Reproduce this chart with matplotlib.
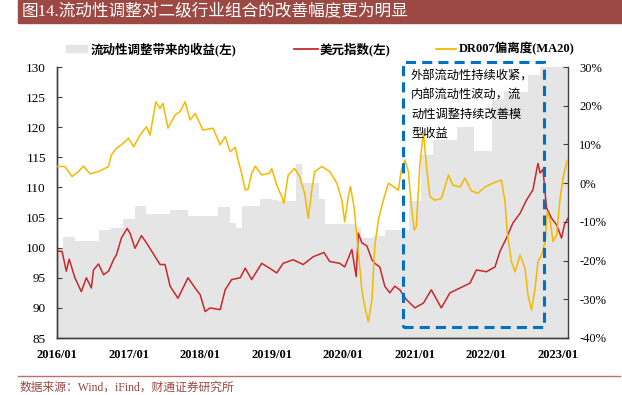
import matplotlib
matplotlib.use('Agg')
import matplotlib.pyplot as plt
from matplotlib.patches import Rectangle
from matplotlib.lines import Line2D
import numpy as np

CJK = 'Noto Sans CJK SC'
SERIF = 'Liberation Serif'
plt.rcParams['font.family'] = [SERIF, CJK]
plt.rcParams['axes.unicode_minus'] = False

# ---------------- data ----------------
# monthly cumulative gain from liquidity adjustment (left axis), Jan 2016 .. Feb 2023
gain_start = 2016.0
gain_values = [
    100.0, 101.8, 101.8, 101.1, 101.1, 101.1, 101.1, 103.0, 103.0, 103.3, 103.3, 104.7,
    104.7, 106.9, 106.9, 105.6, 105.6, 105.6, 105.6, 106.3, 106.3, 106.3, 105.2, 105.2,
    105.2, 105.2, 105.2, 106.8, 106.8, 104.1, 103.3, 106.9, 106.9, 106.9, 108.1, 108.0,
    107.9, 107.8, 107.8, 107.8, 113.9, 110.7, 110.7, 110.7, 108.1, 103.9, 103.9, 103.9,
    103.9, 103.9, 103.4, 101.6, 101.6, 101.9, 101.9, 102.9, 102.9, 102.9, 103.0, 107.8,
    107.8, 115.4, 115.4, 117.9, 117.9, 117.9, 117.9, 120.1, 120.1, 120.1, 116.0, 116.0,
    116.0, 124.5, 124.5, 125.9, 125.9, 125.9, 125.9, 128.7, 128.7, 132.0, 132.0, 132.0,
    132.0, 132.0,
]
x_end = 2023.14

# US dollar index (left axis)
usd_t = [2016.00, 2016.07, 2016.13, 2016.17, 2016.25, 2016.34, 2016.41, 2016.48, 2016.51,
         2016.58, 2016.65, 2016.72, 2016.79, 2016.83, 2016.90, 2016.98, 2017.02, 2017.09,
         2017.18, 2017.25, 2017.34, 2017.44, 2017.51, 2017.58, 2017.69, 2017.76, 2017.83,
         2017.93, 2018.00, 2018.07, 2018.14, 2018.28, 2018.35, 2018.44, 2018.56, 2018.63,
         2018.72, 2018.86, 2018.97, 2019.07, 2019.16, 2019.30, 2019.44, 2019.58, 2019.73,
         2019.81, 2019.95, 2020.02, 2020.12, 2020.18, 2020.21, 2020.26, 2020.33, 2020.40,
         2020.44, 2020.51, 2020.58, 2020.65, 2020.72, 2020.79, 2020.88, 2021.00, 2021.12,
         2021.23, 2021.37, 2021.49, 2021.63, 2021.77, 2021.86, 2022.00, 2022.12, 2022.19,
         2022.28, 2022.37, 2022.47, 2022.56, 2022.65, 2022.72, 2022.75, 2022.79, 2022.84,
         2022.91, 2022.98, 2023.05, 2023.09, 2023.14]
usd_v = [99.4, 99.4, 96.1, 98.1, 95.0, 92.7, 95.0, 93.3, 96.3,
         97.3, 95.5, 96.1, 98.0, 98.8, 101.6, 103.2, 102.4, 99.9,
         102.0, 100.8, 99.1, 97.2, 97.2, 93.6, 91.6, 93.3, 95.0,
         93.3, 92.2, 89.4, 90.0, 89.7, 93.0, 94.7, 95.0, 96.6,
         94.7, 97.4, 96.6, 95.8, 97.4, 98.0, 97.2, 98.5, 99.2,
         97.7, 97.4, 96.8, 99.7, 95.2, 102.4, 100.8, 100.3, 98.0,
         97.4, 96.8, 93.6, 92.5, 93.6, 93.0, 91.4, 90.0, 90.8,
         93.0, 90.0, 92.5, 93.3, 94.1, 96.3, 96.0, 96.8, 99.4,
         101.6, 104.1, 105.7, 107.9, 109.6, 114.0, 112.4, 113.0, 106.6,
         104.9, 103.8, 101.6, 103.8, 104.9]

# DR007 deviation, MA20 (right axis, %)
dr_t = [2016.00, 2016.11, 2016.21, 2016.30, 2016.37, 2016.46, 2016.58, 2016.72, 2016.76,
        2016.83, 2016.90, 2017.00, 2017.07, 2017.16, 2017.25, 2017.30, 2017.38, 2017.44,
        2017.48, 2017.55, 2017.65, 2017.72, 2017.79, 2017.86, 2017.93, 2018.04, 2018.18,
        2018.28, 2018.35, 2018.42, 2018.49, 2018.53, 2018.58, 2018.63, 2018.67, 2018.72,
        2018.77, 2018.86, 2018.97, 2019.00, 2019.07, 2019.14, 2019.17, 2019.23, 2019.32,
        2019.39, 2019.46, 2019.51, 2019.56, 2019.60, 2019.70, 2019.81, 2019.91, 2019.98,
        2020.02, 2020.07, 2020.10, 2020.15, 2020.19, 2020.26, 2020.30, 2020.35, 2020.40,
        2020.44, 2020.49, 2020.56, 2020.63, 2020.70, 2020.77, 2020.81, 2020.86, 2020.91,
        2020.95, 2020.99, 2021.02, 2021.07, 2021.12, 2021.16, 2021.21, 2021.28, 2021.37,
        2021.47, 2021.53, 2021.63, 2021.70, 2021.79, 2021.88, 2021.98, 2022.09, 2022.21,
        2022.26, 2022.29, 2022.35, 2022.40, 2022.47, 2022.54, 2022.58, 2022.63, 2022.68,
        2022.72, 2022.77, 2022.82, 2022.85, 2022.89, 2022.93, 2022.98, 2023.03, 2023.07,
        2023.12, 2023.14]
dr_v = [4.3, 4.3, 1.7, 3.0, 4.4, 2.4, 3.0, 4.3, 7.3,
        9.0, 9.9, 11.6, 9.4, 12.4, 14.6, 12.4, 21.0, 19.3,
        20.6, 14.2, 17.6, 18.5, 21.0, 16.3, 18.0, 13.7, 14.2,
        9.9, 12.0, 8.1, 9.3, 6.0, 2.5, -1.8, -1.5, 2.5,
        4.4, 2.1, 2.6, 3.8, -0.5, -3.5, -5.2, 2.1, 3.8,
        1.7, -2.6, -9.1, -1.8, 3.0, 4.3, 3.0, 0.0, -4.4,
        -10.0, -3.5, -0.9, -6.1, -13.8, -27.6, -31.9, -35.8, -30.2,
        -16.4, -9.5, -4.4, 0.0, -0.9, -1.8, 3.4, 6.0, 3.0,
        -5.6, -12.1, -11.3, 4.7, 13.3, 4.7, -3.5, -4.4, -4.0,
        2.1, -0.5, -1.0, 1.3, -2.0, -2.6, -1.0, 0.0, 0.8,
        -4.8, -12.5, -20.3, -22.9, -18.6, -22.0, -28.9, -32.8, -27.2,
        -20.3, -18.6, -15.1, -7.4, -9.5, -15.1, -13.4, -3.9, 1.2,
        5.5, 6.0]

year_ticks = [2016, 2017, 2018, 2019, 2020, 2021, 2022, 2023]
year_labels = ['2016/01', '2017/01', '2018/01', '2019/01', '2020/01', '2021/01', '2022/01', '2023/01']
left_ticks = [85, 90, 95, 100, 105, 110, 115, 120, 125, 130]
right_ticks = [-40, -30, -20, -10, 0, 10, 20, 30]
right_labels = [f'{v}%' for v in right_ticks]

title = '图14.流动性调整对二级行业组合的改善幅度更为明显'
legend_labels = ['流动性调整带来的收益(左)', '美元指数(左)', 'DR007偏离度(MA20)']
note_lines = ['外部流动性持续收紧，', '内部流动性波动，流', '动性调整持续改善模', '型收益']
source = '数据来源：Wind，iFind，财通证券研究所'

# highlighted period box (years, right-axis %)
box_x = (2020.83, 2022.80)
box_y = (-37.1, 31.4)

# ---------------- styles ----------------
W, H = 622, 395
GRAY = '#E5E5E5'
RED = '#C8282D'
GOLD = '#F6B900'
BLUE = '#0070C0'
BRICK = '#9C4843'
SPINE = '#404040'

fig = plt.figure(figsize=(W / 100, H / 100), dpi=100)
ax = fig.add_axes([57 / W, 57 / H, 511 / W, 271 / H])

# gray step area
edges = np.append(gain_start + np.arange(len(gain_values)) / 12.0, x_end)
vals = np.append(gain_values, gain_values[-1])
ax.fill_between(edges, 85, vals, step='post', color=GRAY, lw=0, zorder=1)
ax.plot(usd_t, usd_v, color=RED, lw=1.1, zorder=3)

ax.set_xlim(2016.0, x_end)
ax.set_ylim(85, 130)
ax.set_yticks(left_ticks)
ax.set_yticklabels([str(v) for v in left_ticks], fontsize=9.5, family=SERIF)
ax.set_xticks(year_ticks)
ax.set_xticklabels(year_labels, fontsize=9, fontweight='bold', family=SERIF)
ax.tick_params(axis='y', direction='in', length=3.5, width=0.8, pad=8, colors='black')
ax.tick_params(axis='y', colors=SPINE, labelcolor='black')
ax.tick_params(axis='x', length=0, pad=8)

ax2 = ax.twinx()
ax2.plot(dr_t, dr_v, color=GOLD, lw=1.1, zorder=3)
ax2.set_ylim(-40, 30)
ax2.set_yticks(right_ticks)
ax2.set_yticklabels(right_labels, fontsize=9, family=SERIF)
ax2.tick_params(axis='y', direction='in', length=3.5, width=0.8, pad=8, colors=SPINE, labelcolor='black')

for a in (ax, ax2):
    a.spines['top'].set_visible(False)
    for s in ('left', 'right', 'bottom'):
        a.spines[s].set_color(SPINE)
        a.spines[s].set_linewidth(1.0)
ax.spines['right'].set_visible(False)

# dashed highlight box
rect = Rectangle((box_x[0], box_y[0]), box_x[1] - box_x[0], box_y[1] - box_y[0],
                 fill=False, edgecolor=BLUE, lw=2.2, linestyle=(0, (3.3, 2.0)),
                 clip_on=False, zorder=6)
ax2.add_patch(rect)

# annotation text
for i, line in enumerate(note_lines):
    fig.text(411 / W, 1 - (76 + 19 * i) / H, line, fontsize=8.8, family=CJK,
             va='center', ha='left', color='black', zorder=7)

# title bar
fig.patches.append(Rectangle((18 / W, 1 - 23 / H), 1 - 18 / W, 23 / H,
                             transform=fig.transFigure, color=BRICK, zorder=0))
fig.text(22 / W, 1 - 11.5 / H, title, fontsize=12, family=[SERIF, CJK], color='white',
         va='center', ha='left')

# legend
ly = 1 - 49 / H
fig.patches.append(Rectangle((66 / W, 1 - 52 / H), 21 / W, 7 / H,
                             transform=fig.transFigure, color=GRAY))
fig.text(91 / W, ly, legend_labels[0], fontsize=9, fontweight='bold', family=[SERIF, CJK],
         va='center', ha='left')
fig.lines.append(Line2D([294 / W, 318 / W], [ly, ly], transform=fig.transFigure, color=RED, lw=1.3))
fig.text(320 / W, ly, legend_labels[1], fontsize=9, fontweight='bold', family=[SERIF, CJK],
         va='center', ha='left')
fig.lines.append(Line2D([436 / W, 456 / W], [ly, ly], transform=fig.transFigure, color=GOLD, lw=1.3))
fig.text(459 / W, ly, legend_labels[2], fontsize=9, fontweight='bold', family=[SERIF, CJK],
         va='center', ha='left')

# footer
fig.lines.append(Line2D([18 / W, 620 / W], [1 - 376 / H, 1 - 376 / H], transform=fig.transFigure,
                        color='#C0706A', lw=1.0))
fig.text(20 / W, 1 - 388 / H, source, fontsize=8.5, family=[SERIF, CJK], color=BRICK,
         va='center', ha='left')

fig.savefig('out.png', dpi=100)
